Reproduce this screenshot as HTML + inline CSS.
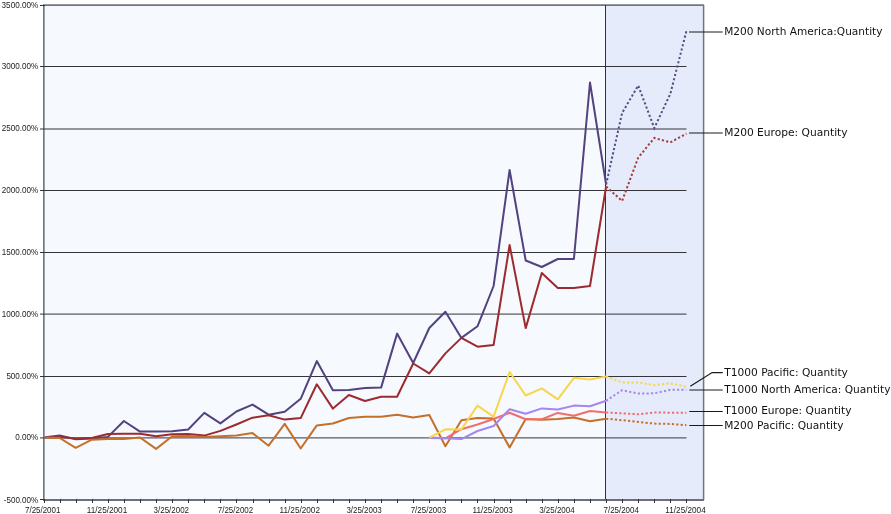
<!DOCTYPE html>
<html><head><meta charset="utf-8"><title>Chart</title>
<style>
html,body{margin:0;padding:0;background:#fff;}
body{width:891px;height:514px;overflow:hidden;}
svg{display:block;}
.ax{font-family:"Liberation Sans",Arial,sans-serif;font-size:8.3px;fill:#1c1c1c;}
.lg{font-family:"DejaVu Sans",Verdana,sans-serif;font-size:11px;fill:#111;}
</style></head><body>
<svg width="891" height="514" viewBox="0 0 891 514">

<rect x="43" y="5" width="563" height="495" fill="#f6f9fe"/>
<rect x="606" y="5" width="98" height="495" fill="#e5ebfb"/>
<line x1="43" y1="66.5" x2="686.5" y2="66.5" stroke="#34343a" stroke-width="1"/>
<line x1="43" y1="129.0" x2="686.5" y2="129.0" stroke="#34343a" stroke-width="1"/>
<line x1="43" y1="190.5" x2="686.5" y2="190.5" stroke="#34343a" stroke-width="1"/>
<line x1="43" y1="252.5" x2="686.5" y2="252.5" stroke="#34343a" stroke-width="1"/>
<line x1="43" y1="314.1" x2="686.5" y2="314.1" stroke="#34343a" stroke-width="1"/>
<line x1="43" y1="376.5" x2="686.5" y2="376.5" stroke="#34343a" stroke-width="1"/>
<line x1="43" y1="437.9" x2="686.5" y2="437.9" stroke="#5a5a66" stroke-width="1.2"/>
<line x1="43" y1="5.2" x2="704" y2="5.2" stroke="#74747f" stroke-width="1.7"/>
<line x1="703.6" y1="5" x2="703.6" y2="500" stroke="#74747c" stroke-width="1.5"/>
<line x1="605.5" y1="5" x2="605.5" y2="500" stroke="#2c3438" stroke-width="1"/>
<polyline points="43.6,437.5 59.7,435.6 75.7,439.2 91.8,438.4 107.9,436.9 123.9,421.0 140.0,431.6 156.1,431.6 172.2,431.3 188.2,429.5 204.3,412.9 220.4,423.4 236.4,411.5 252.5,404.6 268.6,414.7 284.7,411.7 300.7,398.8 316.8,361.1 332.9,390.3 348.9,390.0 365.0,388.0 381.1,387.6 397.1,333.6 413.2,363.0 429.3,328.0 445.4,311.7 461.4,337.9 477.5,326.3 493.6,286.0 509.6,170.0 525.7,260.5 541.8,267.0 557.8,259.0 573.9,259.0 590.0,82.5 606.1,184.5" fill="none" stroke="#52427f" stroke-width="2" stroke-linejoin="round"/>
<polyline points="606.1,184.5 622.1,113.0 638.2,85.5 654.3,128.1 670.3,93.9 686.4,31.1" fill="none" stroke="#5a4e80" stroke-width="2" stroke-dasharray="2.2 2.2"/>
<polyline points="43.6,437.5 59.7,436.9 75.7,438.5 91.8,438.0 107.9,434.0 123.9,433.8 140.0,433.7 156.1,436.3 172.2,434.3 188.2,433.9 204.3,435.6 220.4,430.9 236.4,424.5 252.5,417.7 268.6,415.3 284.7,419.6 300.7,418.1 316.8,384.3 332.9,408.6 348.9,395.0 365.0,401.0 381.1,396.8 397.1,396.8 413.2,363.5 429.3,373.4 445.4,353.4 461.4,337.9 477.5,346.7 493.6,345.0 509.6,245.0 525.7,328.1 541.8,273.0 557.8,288.0 573.9,288.0 590.0,286.0 606.1,186.5" fill="none" stroke="#9c2a2e" stroke-width="2" stroke-linejoin="round"/>
<polyline points="606.1,186.5 622.1,201.0 638.2,157.7 654.3,137.9 670.3,142.4 686.4,133.7" fill="none" stroke="#a63c3c" stroke-width="2" stroke-dasharray="2.2 2.2"/>
<polyline points="43.6,437.6 59.7,438.0 75.7,447.8 91.8,439.7 107.9,439.0 123.9,439.0 140.0,437.5 156.1,448.9 172.2,436.3 188.2,435.9 204.3,437.0 220.4,436.3 236.4,435.5 252.5,433.1 268.6,445.7 284.7,423.9 300.7,448.5 316.8,425.4 332.9,423.5 348.9,418.0 365.0,416.7 381.1,416.7 397.1,414.8 413.2,417.5 429.3,415.0 445.4,446.2 461.4,420.3 477.5,418.0 493.6,418.5 509.6,447.4 525.7,419.1 541.8,419.7 557.8,419.0 573.9,417.6 590.0,421.2 606.1,418.7" fill="none" stroke="#c4702a" stroke-width="2" stroke-linejoin="round"/>
<polyline points="606.1,418.7 622.1,420.2 638.2,421.9 654.3,423.6 670.3,423.9 686.4,425.2" fill="none" stroke="#c4702a" stroke-width="2" stroke-dasharray="2.2 2.2"/>
<polyline points="429.3,437.5 445.4,438.3 461.4,429.2 477.5,424.5 493.6,419.0 509.6,412.8 525.7,419.3 541.8,419.3 557.8,412.9 573.9,415.8 590.0,411.0 606.1,412.5" fill="none" stroke="#f26e6e" stroke-width="2" stroke-linejoin="round"/>
<polyline points="606.1,412.5 622.1,413.4 638.2,414.3 654.3,412.4 670.3,412.7 686.4,412.7" fill="none" stroke="#f26e6e" stroke-width="2" stroke-dasharray="2.2 2.2"/>
<polyline points="429.3,438.0 445.4,438.2 461.4,439.1 477.5,431.0 493.6,426.0 509.6,409.2 525.7,413.8 541.8,408.4 557.8,409.5 573.9,405.6 590.0,406.3 606.1,400.8" fill="none" stroke="#a486ee" stroke-width="2" stroke-linejoin="round"/>
<polyline points="606.1,400.8 622.1,390.2 638.2,393.6 654.3,393.3 670.3,389.8 686.4,389.8" fill="none" stroke="#a486ee" stroke-width="2" stroke-dasharray="2.2 2.2"/>
<polyline points="429.3,437.6 445.4,429.3 461.4,429.5 477.5,405.6 493.6,416.6 509.6,372.0 525.7,395.5 541.8,388.4 557.8,399.3 573.9,377.8 590.0,379.6 606.1,376.5" fill="none" stroke="#f6d64a" stroke-width="2" stroke-linejoin="round"/>
<polyline points="606.1,376.5 622.1,382.4 638.2,382.4 654.3,385.2 670.3,383.4 686.4,386.8" fill="none" stroke="#f6d64a" stroke-width="2" stroke-dasharray="2.2 2.2"/>
<line x1="43.5" y1="4.5" x2="43.5" y2="500" stroke="#6e7a7a" stroke-width="1"/>
<line x1="44.5" y1="4.5" x2="44.5" y2="500" stroke="#9aa4a4" stroke-width="1"/>
<line x1="43" y1="500" x2="704" y2="500" stroke="#6e6e80" stroke-width="2"/>
<line x1="40" y1="5.5" x2="45" y2="5.5" stroke="#333" stroke-width="1"/>
<line x1="40" y1="66.5" x2="45" y2="66.5" stroke="#333" stroke-width="1"/>
<line x1="40" y1="129.0" x2="45" y2="129.0" stroke="#333" stroke-width="1"/>
<line x1="40" y1="190.5" x2="45" y2="190.5" stroke="#333" stroke-width="1"/>
<line x1="40" y1="252.5" x2="45" y2="252.5" stroke="#333" stroke-width="1"/>
<line x1="40" y1="314.1" x2="45" y2="314.1" stroke="#333" stroke-width="1"/>
<line x1="40" y1="376.5" x2="45" y2="376.5" stroke="#333" stroke-width="1"/>
<line x1="40" y1="437.9" x2="45" y2="437.9" stroke="#333" stroke-width="1"/>
<line x1="40" y1="499.5" x2="45" y2="499.5" stroke="#333" stroke-width="1"/>
<line x1="44.5" y1="499" x2="44.5" y2="503" stroke="#333" stroke-width="1"/>
<line x1="60.5" y1="499" x2="60.5" y2="503" stroke="#333" stroke-width="1"/>
<line x1="76.5" y1="499" x2="76.5" y2="503" stroke="#333" stroke-width="1"/>
<line x1="92.5" y1="499" x2="92.5" y2="503" stroke="#333" stroke-width="1"/>
<line x1="108.5" y1="499" x2="108.5" y2="503" stroke="#333" stroke-width="1"/>
<line x1="124.5" y1="499" x2="124.5" y2="503" stroke="#333" stroke-width="1"/>
<line x1="140.5" y1="499" x2="140.5" y2="503" stroke="#333" stroke-width="1"/>
<line x1="156.5" y1="499" x2="156.5" y2="503" stroke="#333" stroke-width="1"/>
<line x1="172.5" y1="499" x2="172.5" y2="503" stroke="#333" stroke-width="1"/>
<line x1="188.5" y1="499" x2="188.5" y2="503" stroke="#333" stroke-width="1"/>
<line x1="204.5" y1="499" x2="204.5" y2="503" stroke="#333" stroke-width="1"/>
<line x1="220.5" y1="499" x2="220.5" y2="503" stroke="#333" stroke-width="1"/>
<line x1="236.5" y1="499" x2="236.5" y2="503" stroke="#333" stroke-width="1"/>
<line x1="253.5" y1="499" x2="253.5" y2="503" stroke="#333" stroke-width="1"/>
<line x1="269.5" y1="499" x2="269.5" y2="503" stroke="#333" stroke-width="1"/>
<line x1="285.5" y1="499" x2="285.5" y2="503" stroke="#333" stroke-width="1"/>
<line x1="301.5" y1="499" x2="301.5" y2="503" stroke="#333" stroke-width="1"/>
<line x1="317.5" y1="499" x2="317.5" y2="503" stroke="#333" stroke-width="1"/>
<line x1="333.5" y1="499" x2="333.5" y2="503" stroke="#333" stroke-width="1"/>
<line x1="349.5" y1="499" x2="349.5" y2="503" stroke="#333" stroke-width="1"/>
<line x1="365.5" y1="499" x2="365.5" y2="503" stroke="#333" stroke-width="1"/>
<line x1="381.5" y1="499" x2="381.5" y2="503" stroke="#333" stroke-width="1"/>
<line x1="397.5" y1="499" x2="397.5" y2="503" stroke="#333" stroke-width="1"/>
<line x1="413.5" y1="499" x2="413.5" y2="503" stroke="#333" stroke-width="1"/>
<line x1="429.5" y1="499" x2="429.5" y2="503" stroke="#333" stroke-width="1"/>
<line x1="445.5" y1="499" x2="445.5" y2="503" stroke="#333" stroke-width="1"/>
<line x1="461.5" y1="499" x2="461.5" y2="503" stroke="#333" stroke-width="1"/>
<line x1="477.5" y1="499" x2="477.5" y2="503" stroke="#333" stroke-width="1"/>
<line x1="494.5" y1="499" x2="494.5" y2="503" stroke="#333" stroke-width="1"/>
<line x1="510.5" y1="499" x2="510.5" y2="503" stroke="#333" stroke-width="1"/>
<line x1="526.5" y1="499" x2="526.5" y2="503" stroke="#333" stroke-width="1"/>
<line x1="542.5" y1="499" x2="542.5" y2="503" stroke="#333" stroke-width="1"/>
<line x1="558.5" y1="499" x2="558.5" y2="503" stroke="#333" stroke-width="1"/>
<line x1="574.5" y1="499" x2="574.5" y2="503" stroke="#333" stroke-width="1"/>
<line x1="590.5" y1="499" x2="590.5" y2="503" stroke="#333" stroke-width="1"/>
<line x1="606.5" y1="499" x2="606.5" y2="503" stroke="#333" stroke-width="1"/>
<line x1="622.5" y1="499" x2="622.5" y2="503" stroke="#333" stroke-width="1"/>
<line x1="638.5" y1="499" x2="638.5" y2="503" stroke="#333" stroke-width="1"/>
<line x1="654.5" y1="499" x2="654.5" y2="503" stroke="#333" stroke-width="1"/>
<line x1="670.5" y1="499" x2="670.5" y2="503" stroke="#333" stroke-width="1"/>
<line x1="686.5" y1="499" x2="686.5" y2="503" stroke="#333" stroke-width="1"/>
<text class="ax" x="1.6" y="8" textLength="36.6" lengthAdjust="spacingAndGlyphs">3500.00%</text>
<text class="ax" x="1.7" y="69" textLength="36.5" lengthAdjust="spacingAndGlyphs">3000.00%</text>
<text class="ax" x="1.7" y="131" textLength="36.5" lengthAdjust="spacingAndGlyphs">2500.00%</text>
<text class="ax" x="1.7" y="193" textLength="36.5" lengthAdjust="spacingAndGlyphs">2000.00%</text>
<text class="ax" x="1.7" y="255" textLength="36.5" lengthAdjust="spacingAndGlyphs">1500.00%</text>
<text class="ax" x="1.7" y="317" textLength="36.5" lengthAdjust="spacingAndGlyphs">1000.00%</text>
<text class="ax" x="6.4" y="379" textLength="31.8" lengthAdjust="spacingAndGlyphs">500.00%</text>
<text class="ax" x="15.2" y="440" textLength="23.0" lengthAdjust="spacingAndGlyphs">0.00%</text>
<text class="ax" x="3.8" y="503" textLength="34.4" lengthAdjust="spacingAndGlyphs">-500.00%</text>
<text class="ax" x="25.0" y="513" textLength="35.4" lengthAdjust="spacingAndGlyphs">7/25/2001</text>
<text class="ax" x="86.8" y="513" textLength="40.4" lengthAdjust="spacingAndGlyphs">11/25/2001</text>
<text class="ax" x="153.6" y="513" textLength="35.4" lengthAdjust="spacingAndGlyphs">3/25/2002</text>
<text class="ax" x="217.8" y="513" textLength="35.4" lengthAdjust="spacingAndGlyphs">7/25/2002</text>
<text class="ax" x="279.6" y="513" textLength="40.4" lengthAdjust="spacingAndGlyphs">11/25/2002</text>
<text class="ax" x="346.4" y="513" textLength="35.4" lengthAdjust="spacingAndGlyphs">3/25/2003</text>
<text class="ax" x="410.7" y="513" textLength="35.4" lengthAdjust="spacingAndGlyphs">7/25/2003</text>
<text class="ax" x="472.5" y="513" textLength="40.4" lengthAdjust="spacingAndGlyphs">11/25/2003</text>
<text class="ax" x="539.2" y="513" textLength="35.4" lengthAdjust="spacingAndGlyphs">3/25/2004</text>
<text class="ax" x="603.5" y="513" textLength="35.4" lengthAdjust="spacingAndGlyphs">7/25/2004</text>
<text class="ax" x="665.3" y="513" textLength="40.4" lengthAdjust="spacingAndGlyphs">11/25/2004</text>
<polyline points="689,32 722.7,32" fill="none" stroke="#1a1a1a" stroke-width="1"/>
<text class="lg" x="724.2" y="35" textLength="158.3" lengthAdjust="spacingAndGlyphs">M200 North America:Quantity</text>
<polyline points="689,133 722.7,133" fill="none" stroke="#1a1a1a" stroke-width="1"/>
<text class="lg" x="724.2" y="136" textLength="123.4" lengthAdjust="spacingAndGlyphs">M200 Europe: Quantity</text>
<polyline points="690.3,386.3 712.1,372.5 722.7,372.5" fill="none" stroke="#1a1a1a" stroke-width="1.25"/>
<text class="lg" x="724.2" y="376" textLength="123.7" lengthAdjust="spacingAndGlyphs">T1000 Pacific: Quantity</text>
<polyline points="689.3,390 722.7,390" fill="none" stroke="#1a1a1a" stroke-width="1"/>
<text class="lg" x="724.2" y="393" textLength="166.3" lengthAdjust="spacingAndGlyphs">T1000 North America: Quantity</text>
<polyline points="689.3,411.5 722.7,411.5" fill="none" stroke="#1a1a1a" stroke-width="1"/>
<text class="lg" x="724.2" y="414" textLength="127.3" lengthAdjust="spacingAndGlyphs">T1000 Europe: Quantity</text>
<polyline points="689.3,425.5 722.7,425.5" fill="none" stroke="#1a1a1a" stroke-width="1"/>
<text class="lg" x="724.2" y="428.7" textLength="119.3" lengthAdjust="spacingAndGlyphs">M200 Pacific: Quantity</text>
</svg>
</body></html>
